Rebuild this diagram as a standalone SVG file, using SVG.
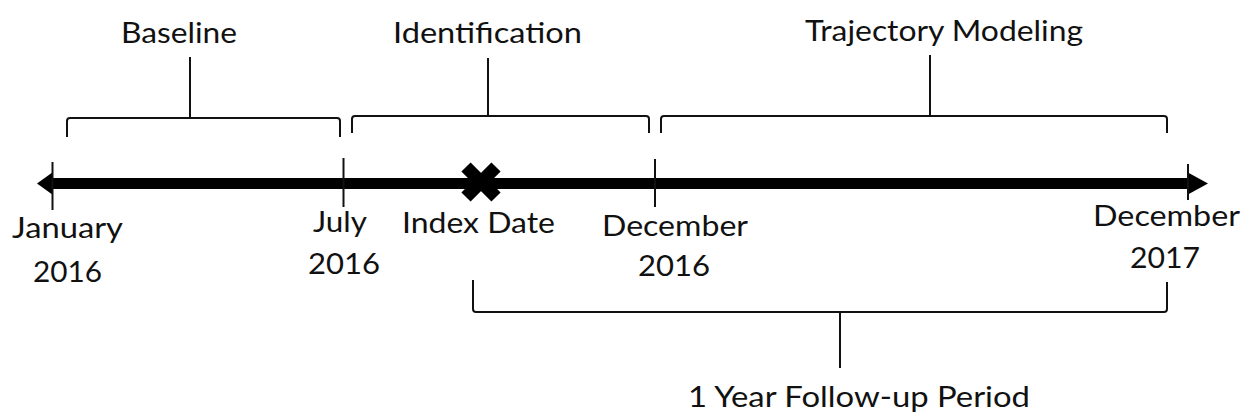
<svg xmlns="http://www.w3.org/2000/svg" width="1249" height="419" viewBox="0 0 1249 419">
<style>
text{font-family:Lato,"Open Sans","Liberation Sans",sans-serif;font-size:29px;fill:#111;}
.br{fill:none;stroke:#111;stroke-width:2;stroke-linejoin:round;}
.tk{stroke:#111;stroke-width:2;}
</style>
<rect width="1249" height="419" fill="#fff"/>
<g id="connectors">
<g id="timeline">
<line x1="50" y1="183.5" x2="1190" y2="183.5" stroke="#000" stroke-width="11"/>
<polygon points="37,183.5 53,172 53,195" fill="#000"/>
<polygon points="1208,183.5 1187,172 1187,195" fill="#000"/>
</g>
<line class="tk" x1="52.5" y1="162" x2="52.5" y2="210"/>
<line class="tk" x1="343.5" y1="158" x2="343.5" y2="207"/>
<line class="tk" x1="655" y1="159" x2="655" y2="207"/>
<line class="tk" x1="1188" y1="164" x2="1188" y2="200"/>
<path class="br" d="M67,137 V121 Q67,118 70,118 H337 Q340,118 340,121 V137"/>
<line class="tk" x1="190" y1="57" x2="190" y2="118"/>
<path class="br" d="M352,133 V119 Q352,116 355,116 H646 Q649,116 649,119 V133"/>
<line class="tk" x1="488" y1="58" x2="488" y2="116"/>
<path class="br" d="M661,133 V119 Q661,116 664,116 H1164 Q1167,116 1167,119 V133"/>
<line class="tk" x1="930" y1="55" x2="930" y2="116"/>
<path class="br" d="M473,280 V309 Q473,312 476,312 H1164 Q1167,312 1167,309 V282"/>
<line class="tk" x1="840" y1="312" x2="840" y2="368"/>
</g>
<g id="index-marker">
<line x1="466" y1="167" x2="496" y2="197" stroke="#000" stroke-width="13"/>
<line x1="496" y1="167" x2="466" y2="197" stroke="#000" stroke-width="13"/>
</g>
<g id="label-baseline"><text x="121" y="43" textLength="116" lengthAdjust="spacingAndGlyphs">Baseline</text></g>
<g id="label-identification"><text x="393" y="43" textLength="189" lengthAdjust="spacingAndGlyphs">Identification</text></g>
<g id="label-trajectory"><text x="805" y="41" textLength="278" lengthAdjust="spacingAndGlyphs">Trajectory Modeling</text></g>
<g id="label-jan2016">
<text x="12" y="238" textLength="111" lengthAdjust="spacingAndGlyphs">January</text>
<text x="33" y="282" textLength="69" lengthAdjust="spacingAndGlyphs">2016</text>
</g>
<g id="label-jul2016">
<text x="313" y="232" textLength="54" lengthAdjust="spacingAndGlyphs">July</text>
<text x="308" y="274" textLength="72" lengthAdjust="spacingAndGlyphs">2016</text>
</g>
<g id="label-index"><text x="402" y="233" textLength="153" lengthAdjust="spacingAndGlyphs">Index Date</text></g>
<g id="label-dec2016">
<text x="602" y="236" textLength="146" lengthAdjust="spacingAndGlyphs">December</text>
<text x="638" y="276" textLength="72" lengthAdjust="spacingAndGlyphs">2016</text>
</g>
<g id="label-dec2017">
<text x="1093" y="226" textLength="147" lengthAdjust="spacingAndGlyphs">December</text>
<text x="1130" y="268" textLength="70" lengthAdjust="spacingAndGlyphs">2017</text>
</g>
<g id="label-followup"><text x="688" y="407" textLength="342" lengthAdjust="spacingAndGlyphs">1 Year Follow-up Period</text></g>
</svg>
